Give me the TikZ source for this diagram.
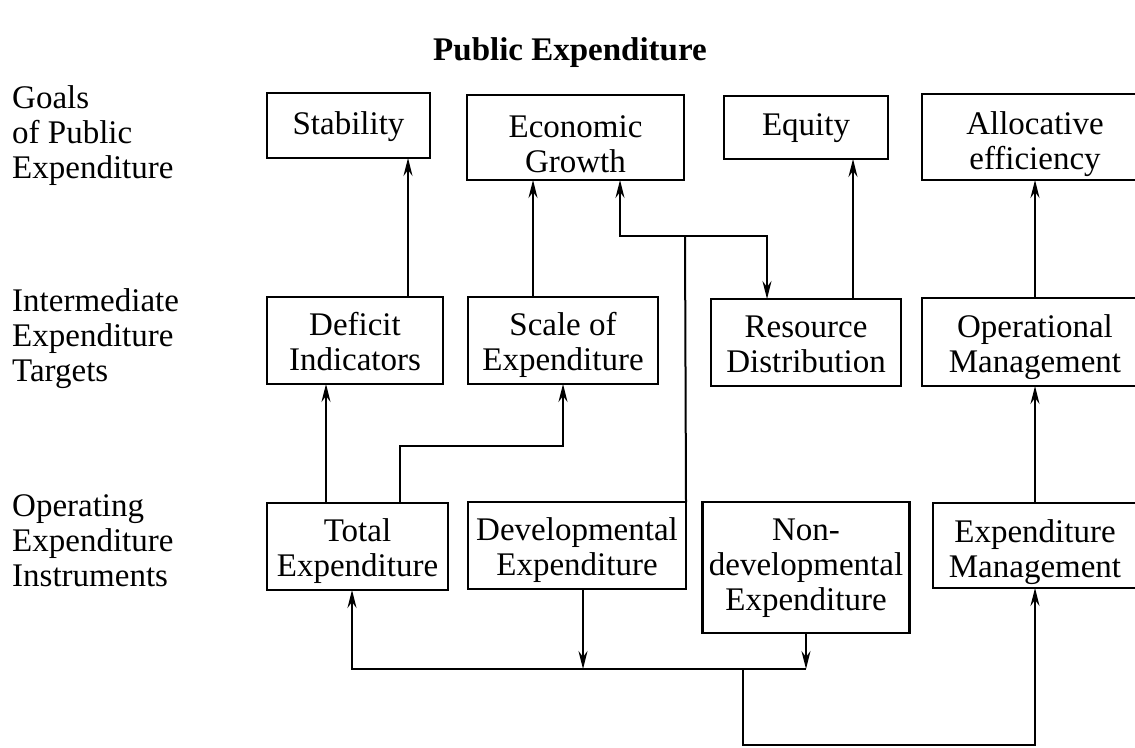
\documentclass[tikz,border=0pt]{standalone}
\usepackage{fontspec}
\setmainfont{Liberation Serif}
\usetikzlibrary{arrows.meta}
\tikzset{
	box/.style={draw, line width=2.4pt, align=center, inner sep=0pt, outer sep=0pt,
		text height=60pt, text depth=0pt, font=\fontsize{33}{35}\selectfont},
	lbl/.style={align=left, anchor=west, inner sep=0pt, font=\fontsize{33}{35}\selectfont},
	link/.style={line width=2pt},
}
\begin{document}
\begin{tikzpicture}[x=1pt,y=-1pt,>={Stealth[length=18pt,width=9pt,inset=6pt]}]
	\clip (0,0) rectangle (1135,747);
	\fill[white] (0,0) rectangle (1135,747);
	\node[font=\bfseries\fontsize{33}{36}\selectfont] (title) at (570,53) {Public Expenditure};
	% row labels
	\node[lbl] (goals) at (12,136) {Goals\\of Public\\Expenditure};
	\node[lbl] (targets) at (12,339) {Intermediate\\Expenditure\\Targets};
	\node[lbl] (instr) at (12,541) {Operating\\Expenditure\\Instruments};
	% goals
	\node[box, minimum width=163, minimum height=65, text height=17pt] (stab) at (348.5,125.5) {Stability};
	\node[box, minimum width=217, minimum height=85, text height=70pt] (econ) at (575.5,137.5) {Economic\\Growth};
	\node[box, minimum width=164, minimum height=63, text height=15pt] (equity) at (806,127.5) {Equity};
	\node[box, minimum width=226, minimum height=86, text height=64pt] (alloc) at (1035,137) {Allocative\\efficiency};
	% targets
	\node[box, minimum width=176, minimum height=87] (def) at (355,340.5) {Deficit\\Indicators};
	\node[box, minimum width=190, minimum height=87] (scale) at (563,340.5) {Scale of\\Expenditure};
	\node[box, minimum width=190, minimum height=87] (res) at (806,342.5) {Resource\\Distribution};
	\node[box, minimum width=226, minimum height=88] (op) at (1035,342) {Operational\\Management};
	% instruments
	\node[box, minimum width=181, minimum height=87] (total) at (357.5,546.5) {Total\\Expenditure};
	\node[box, minimum width=218, minimum height=87] (dev) at (577,545.5) {Developmental\\Expenditure};
	\node[box, minimum width=207, minimum height=131, text height=85pt] (nondev) at (806,567.5) {Non-\\developmental\\Expenditure};
	\node[box, minimum width=204, minimum height=85, text height=63pt] (expm) at (1035,545.5) {Expenditure\\Management};
	% upward links
	\draw[link,->] ([xshift=53]def.north) -- ([xshift=53]def.north |- stab.south);
	\draw[link,->] ([xshift=-30]scale.north) -- ([xshift=-30]scale.north |- econ.south);
	\draw[link,->] ([xshift=47]res.north) -- ([xshift=47]res.north |- equity.south);
	\draw[link,->] (op.north) -- (op.north |- alloc.south);
	\draw[link,->] (expm.north) -- (expm.north |- op.south);
	\draw[link,->] ([xshift=-31.5]total.north) -- ([xshift=-31.5]total.north |- def.south);
	\draw[link,->] ([xshift=42.5]total.north) -- ++(0,-57) -| (scale.south);
	% developmental spending feeds growth and distribution
	\coordinate (split) at (685,236);
	\draw[link] (dev.north east) -- (split);
	\draw[link,->] (split) -| ([xshift=44.5]econ.south);
	\draw[link,->] (split) -| ([xshift=-39]res.north);
	% bottom loop
	\coordinate (bus) at (352,669);
	\coordinate (drop) at (743,669);
	\draw[link,->] ([xshift=6]dev.south) -- ([xshift=6]dev.south |- bus);
	\draw[link,->] (nondev.south) -- (nondev.south |- bus);
	\draw[link,->] (nondev.south |- bus) -- (bus) -- (bus |- total.south);
	\draw[link,->] (drop) -- ++(0,76) -| (expm.south);
\end{tikzpicture}
\end{document}
